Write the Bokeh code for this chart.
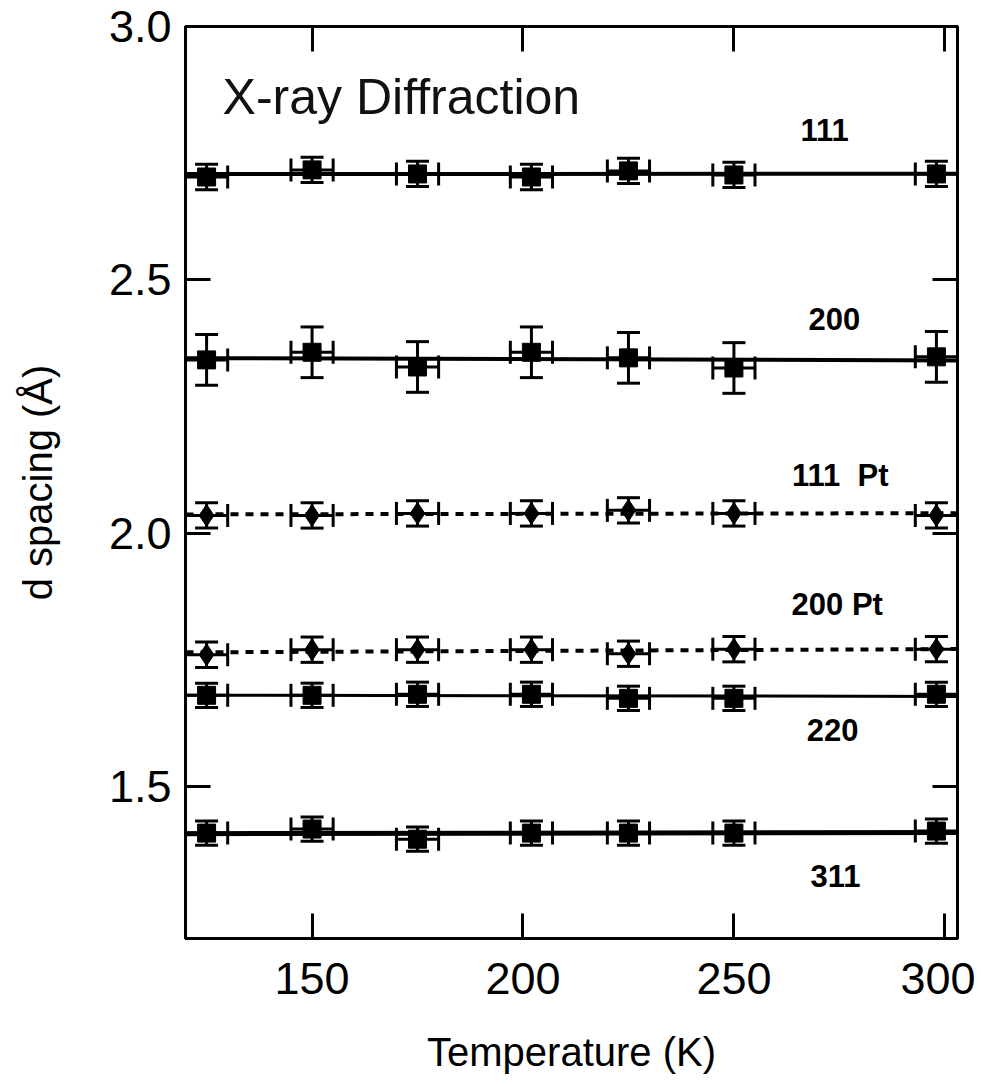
import numpy as np
from bokeh.plotting import figure
from bokeh.models import (ColumnDataSource, Whisker, TeeHead, LinearAxis, FixedTicker,
                          Range1d, Label, NumeralTickFormatter, CustomJSTickFormatter)
from bokeh.embed import file_html
from bokeh.resources import INLINE

# ---------------- data ----------------
temperature = [125, 150, 175, 202, 225, 250, 298]
d_111 = [2.703, 2.717, 2.709, 2.703, 2.715, 2.707, 2.709]
d_200 = [2.342, 2.357, 2.328, 2.357, 2.346, 2.326, 2.348]
d_111_pt = [2.035, 2.035, 2.039, 2.039, 2.045, 2.039, 2.035]
d_200_pt = [1.760, 1.770, 1.770, 1.770, 1.762, 1.771, 1.771]
d_220 = [1.680, 1.680, 1.682, 1.682, 1.674, 1.674, 1.682]
d_311 = [1.408, 1.416, 1.396, 1.408, 1.408, 1.408, 1.412]
yerr_111 = 0.025
yerr_200 = 0.050
yerr_111_pt = 0.025
yerr_200_pt = 0.025
yerr_220 = 0.024
yerr_311 = 0.024
xerr = 5.0
labels = ["111", "200", "111\u00a0\u00a0Pt", "200 Pt", "220", "311"]
x_ticks = [150, 200, 250, 300]
y_ticks = [1.5, 2.0, 2.5, 3.0]

# series: values, error, marker, dash, line width
series = [
    (d_111, yerr_111, "square", "solid", 4),
    (d_200, yerr_200, "square", "solid", 4),
    (d_111_pt, yerr_111_pt, "diamond", "8 7", 4),
    (d_200_pt, yerr_200_pt, "diamond", "8 7", 4),
    (d_220, yerr_220, "square", "solid", 3),
    (d_311, yerr_311, "square", "solid", 5),
]
# label anchor positions (data coords, baseline)
label_pos = [(271.5, 2.796), (273.8, 2.422), (275.2, 2.113),
             (274.5, 1.859), (273.4, 1.611), (274.1, 1.324)]

X0, X1 = 120, 303
FONT = "Liberation Sans"

p = figure(width=975, height=1076, output_backend="svg", toolbar_location=None,
           x_range=Range1d(X0, X1), y_range=Range1d(1.2, 3.0),
           min_border_left=185, min_border_right=18, min_border_top=26,
           min_border_bottom=131)
p.grid.visible = False
p.outline_line_color = "black"
p.outline_line_width = 3
p.background_fill_color = "white"
p.border_fill_color = "white"

for vals, err, marker, dash, lw in series:
    t = np.array(temperature, dtype=float)
    v = np.array(vals, dtype=float)
    k, b = np.polyfit(t, v, 1)
    p.line([X0, X1], [k * X0 + b, k * X1 + b], line_color="black",
           line_width=lw, line_dash=dash)
    src = ColumnDataSource(dict(t=t, v=v, vlo=v - err, vhi=v + err,
                                tlo=t - xerr, thi=t + xerr))
    p.add_layout(Whisker(source=src, base="t", lower="vlo", upper="vhi",
                         dimension="height", line_width=3, line_color="black",
                         lower_head=TeeHead(size=23, line_width=3),
                         upper_head=TeeHead(size=23, line_width=3)))
    p.add_layout(Whisker(source=src, base="v", lower="tlo", upper="thi",
                         dimension="width", line_width=3, line_color="black",
                         lower_head=TeeHead(size=23, line_width=3),
                         upper_head=TeeHead(size=23, line_width=3)))
    size = 18 if marker == "square" else 22
    p.scatter("t", "v", source=src, marker=marker, size=size,
              fill_color="black", line_color="black")

for txt, (lx, ly) in zip(labels, label_pos):
    p.add_layout(Label(x=lx, y=ly, text=txt, text_align="center",
                       text_baseline="alphabetic", text_font=FONT,
                       text_font_style="bold", text_font_size="31px",
                       text_color="black"))

p.add_layout(Label(x=128.8, y=2.861, text="X-ray Diffraction", text_align="left",
                   text_baseline="alphabetic", text_font=FONT,
                   text_font_size="50px", text_color="#111111"))

# axes
for ax in (p.xaxis[0], p.yaxis[0]):
    ax.major_tick_in = 25
    ax.major_tick_out = 0
    ax.minor_tick_line_color = None
    ax.axis_line_width = 3
    ax.major_tick_line_width = 3
    ax.major_label_text_font = FONT
    ax.major_label_text_font_size = "45px"
    ax.major_label_text_color = "black"
    ax.axis_label_text_font = FONT
    ax.axis_label_text_font_size = "40px"
    ax.axis_label_text_font_style = "normal"
    ax.axis_label_text_color = "black"

p.xaxis.ticker = FixedTicker(ticks=x_ticks)
p.yaxis.ticker = FixedTicker(ticks=y_ticks)
p.yaxis.formatter = NumeralTickFormatter(format="0.0")
p.xaxis.axis_label = "Temperature (K)"
p.yaxis.axis_label = "d spacing (Å)"
p.xaxis.major_label_standoff = 24
p.yaxis.major_label_standoff = 14
p.xaxis.axis_label_standoff = 33
p.yaxis.axis_label_standoff = 46

blank = CustomJSTickFormatter(code="return ''")
top = LinearAxis(ticker=FixedTicker(ticks=x_ticks), formatter=blank,
                 major_tick_in=25, major_tick_out=0, minor_tick_line_color=None,
                 axis_line_width=3, major_tick_line_width=3,
                 major_label_standoff=0)
right = LinearAxis(ticker=FixedTicker(ticks=y_ticks), formatter=blank,
                   major_tick_in=25, major_tick_out=0, minor_tick_line_color=None,
                   axis_line_width=3, major_tick_line_width=3,
                   major_label_standoff=0)
p.add_layout(top, "above")
p.add_layout(right, "right")

open("out.html", "w").write(file_html(p, INLINE))
